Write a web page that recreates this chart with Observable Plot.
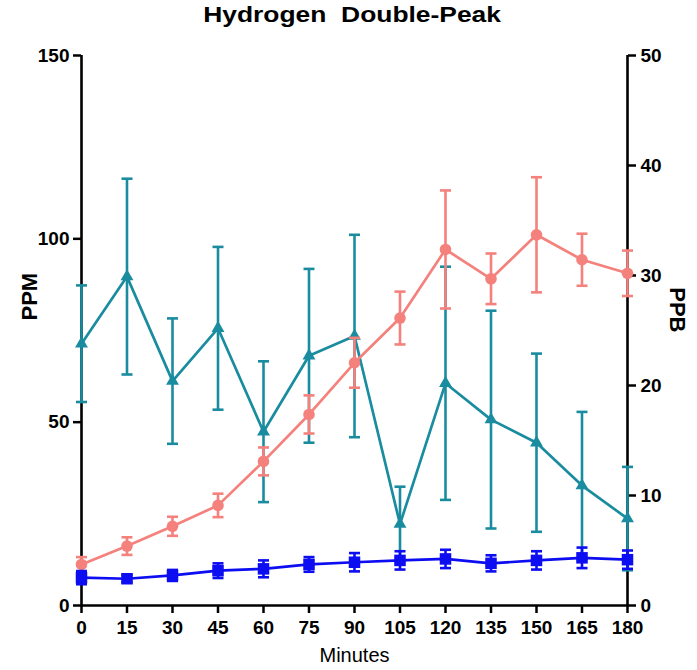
<!DOCTYPE html>
<html>
<head>
<meta charset="utf-8">
<script src="https://cdn.jsdelivr.net/npm/d3@7"></script>
<script src="https://cdn.jsdelivr.net/npm/@observablehq/plot@0.6"></script>
<style>
  html, body { margin: 0; padding: 0; background: #fff; }
  #wrap { width: 697px; height: 670px; position: relative; overflow: hidden; }
  #title { height: 36px; line-height: 30px; text-align: center; font-family: "Liberation Sans", Arial, sans-serif; font-weight: bold; font-size: 22px; color: #000; white-space: pre; padding-left: 8px; }
  #title span { display: inline-block; transform: scaleX(1.2); }
</style>
</head>
<body>
<div id="wrap">
  <div id="title"><span>Hydrogen  Double-Peak</span></div>
  <div id="chart"></div>
</div>
<script>
// ---- Data ----
const minutes = [0, 15, 30, 45, 60, 75, 90, 105, 120, 135, 150, 165, 180];

// Salmon circles (left axis, PPM)
const seriesA = [11.2, 16.2, 21.6, 27.3, 39.3, 52.1, 66.2, 78.4, 97.1, 89.1, 101.1, 94.3, 90.6];
const seriesAErr = [2.0, 2.4, 2.6, 3.2, 3.8, 5.2, 6.8, 7.2, 16.1, 6.9, 15.7, 7.1, 6.2];

// Blue squares (left axis, PPM)
const seriesB = [7.6, 7.3, 8.2, 9.5, 10.0, 11.2, 11.8, 12.3, 12.7, 11.5, 12.3, 13.0, 12.5];
const seriesBErr = [1.8, 1.0, 1.5, 2.0, 2.3, 2.0, 2.5, 2.5, 2.5, 2.2, 2.5, 2.8, 2.5];

// Teal triangles (right axis, PPB)
const seriesC = [23.8, 29.9, 20.4, 25.2, 15.8, 22.7, 24.5, 7.4, 20.2, 16.9, 14.8, 10.9, 7.9];
const seriesCErr = [5.3, 8.9, 5.7, 7.4, 6.4, 7.9, 9.2, 3.4, 10.6, 9.9, 8.1, 6.7, 4.7];

const leftTicks = [0, 50, 100, 150];
const rightTicks = [0, 10, 20, 30, 40, 50];
const PPB_TO_PPM = 3; // right axis 0–50 PPB spans left axis 0–150 PPM

const colA = "#f5817d", colB = "#0d0df2", colC = "#1a8c9f";

const rowsA = minutes.map((t, i) => ({t, v: seriesA[i], e: seriesAErr[i]}));
const rowsB = minutes.map((t, i) => ({t, v: seriesB[i], e: seriesBErr[i]}));
const rowsC = minutes.map((t, i) => ({t, v: seriesC[i] * PPB_TO_PPM, e: seriesCErr[i] * PPB_TO_PPM}));

const cap = { draw(ctx) { ctx.moveTo(-5.5, 0); ctx.lineTo(5.5, 0); } };

function series(rows, color, symbol, r) {
  return [
    Plot.ruleX(rows, {x: "t", y1: d => d.v - d.e, y2: d => d.v + d.e, stroke: color, strokeWidth: 2.6}),
    Plot.dot(rows, {x: "t", y: d => d.v + d.e, symbol: cap, stroke: color, strokeWidth: 2.6, r: 5}),
    Plot.dot(rows, {x: "t", y: d => d.v - d.e, symbol: cap, stroke: color, strokeWidth: 2.6, r: 5}),
    Plot.line(rows, {x: "t", y: "v", stroke: color, strokeWidth: 2.7}),
    Plot.dot(rows, {x: "t", y: "v", symbol, fill: color, stroke: "none", r})
  ];
}

const chart = Plot.plot({
  width: 697,
  height: 634,
  marginTop: 19,
  marginBottom: 65,
  marginLeft: 81,
  marginRight: 70,
  style: {fontFamily: "'Liberation Sans', Arial, sans-serif", fontSize: "19px", fontWeight: "bold", color: "#000", background: "#fff", overflow: "visible"},
  x: {domain: [0, 180]},
  y: {domain: [0, 150]},
  marks: [
    Plot.axisX({ticks: minutes, tickSize: 8, tickPadding: 7, strokeWidth: 2.5, label: null}),
    Plot.axisY({anchor: "left", ticks: leftTicks, tickSize: 8, tickPadding: 4, strokeWidth: 2.5, label: null}),
    Plot.axisY({anchor: "right", ticks: rightTicks.map(v => v * PPB_TO_PPM), tickFormat: v => String(v / PPB_TO_PPM), tickSize: 8, tickPadding: 5, strokeWidth: 2.5, label: null}),
    Plot.ruleX([0, 180], {y1: 0, y2: 150, stroke: "#000", strokeWidth: 2.6}),
    Plot.ruleY([0], {x1: 0, x2: 180, stroke: "#000", strokeWidth: 2.6}),
    ...series(rowsC, colC, "triangle", 4.8),
    ...series(rowsA, colA, "circle", 5.8),
    ...series(rowsB, colB, "square", 6.5),
    Plot.text(["PPM"], {frameAnchor: "left", dx: -52, dy: -10, rotate: -90, fontSize: 22, fontWeight: "bold", fill: "#000"}),
    Plot.text(["PPB"], {frameAnchor: "right", dx: 50, dy: 2, rotate: 90, fontSize: 22, fontWeight: "bold", fill: "#000"}),
    Plot.text(["Minutes"], {frameAnchor: "bottom", dy: 56, fontSize: 20, fontWeight: "normal", fill: "#000"})
  ]
});
document.getElementById("chart").appendChild(chart);
</script>
</body>
</html>
